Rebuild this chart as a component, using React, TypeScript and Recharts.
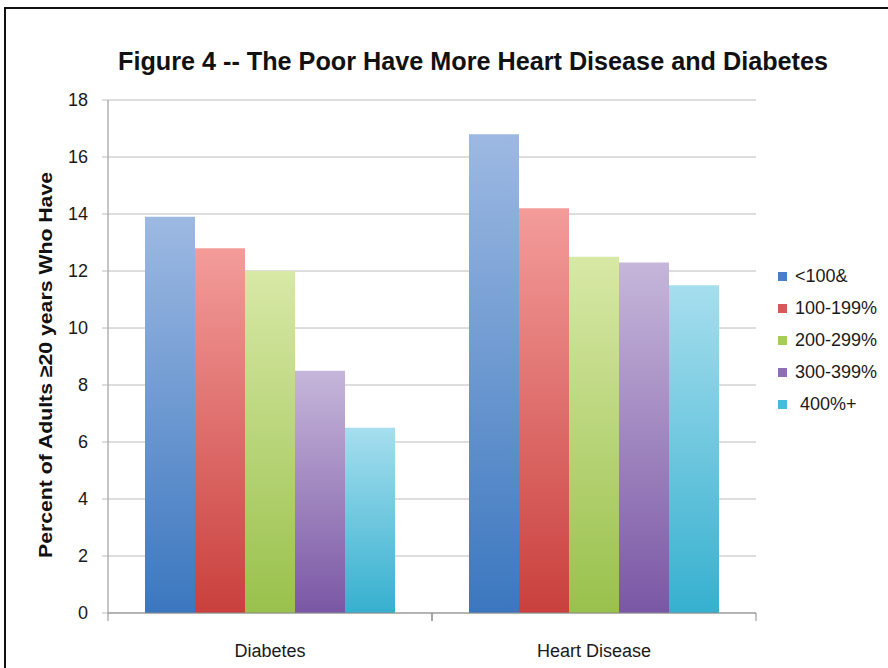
import React from 'react';
import { BarChart, Bar, XAxis, YAxis, CartesianGrid, Legend, Label } from 'recharts';

const categories = ['Diabetes', 'Heart Disease'];
const incomeGroups = ['<100&', '100-199%', '200-299%', '300-399%', ' 400%+'];
const under100 = [13.9, 16.8];
const from100to199 = [12.8, 14.2];
const from200to299 = [12.0, 12.5];
const from300to399 = [8.5, 12.3];
const over400 = [6.5, 11.5];
const yTicks = [0, 2, 4, 6, 8, 10, 12, 14, 16, 18];

const seriesValues = [under100, from100to199, from200to299, from300to399, over400];
const seriesKeys = ['under100', 'from100to199', 'from200to299', 'from300to399', 'over400'];

const data = categories.map((category, i) => {
  const row: Record<string, string | number> = { category };
  seriesValues.forEach((values, s) => {
    row[seriesKeys[s]] = values[i];
  });
  return row;
});

// top -> bottom gradient, like the old Excel bars
const palette = [
  { top: '#9db9e2', bottom: '#3b77bf', swatch: '#4a7fc6' },
  { top: '#f39c9a', bottom: '#c9403d', swatch: '#d8585a' },
  { top: '#d8e8a6', bottom: '#99c14c', swatch: '#a6cc5a' },
  { top: '#c6b6da', bottom: '#7a57a5', swatch: '#8e6fb7' },
  { top: '#a6deee', bottom: '#36b0cf', swatch: '#45bcd8' },
];

const FONT = '"Liberation Sans", Arial, sans-serif';
const HALF_CATEGORY = 162;

const CategoryTick = (props: any) => {
  const { x, y, payload } = props;
  return (
    <g>
      <line x1={x - HALF_CATEGORY} y1={y - 8} x2={x - HALF_CATEGORY} y2={y} stroke="#8a8a8a" />
      <line x1={x + HALF_CATEGORY} y1={y - 8} x2={x + HALF_CATEGORY} y2={y} stroke="#8a8a8a" />
      <text x={x} y={y + 36} textAnchor="middle" fontSize={18} fontFamily={FONT} fill="#1a1a1a">
        {payload.value}
      </text>
    </g>
  );
};

// keep the series order (recharts sorts legend items otherwise)
const renderLegend = () => (
  <div style={{ fontFamily: FONT, fontSize: 18, color: '#1a1a1a' }}>
    {incomeGroups.map((name, i) => (
      <div key={name} style={{ display: 'flex', alignItems: 'center', height: 32 }}>
        <span
          style={{
            display: 'inline-block',
            width: 9,
            height: 9,
            background: palette[i].swatch,
            marginRight: 8,
          }}
        />
        <span style={{ whiteSpace: 'pre' }}>{name}</span>
      </div>
    ))}
  </div>
);

const App = () => {
  return (
    <div
      style={{
        position: 'absolute',
        left: 0,
        top: 0,
        width: 888,
        height: 668,
        overflow: 'hidden',
        background: '#fff',
      }}
    >
      <div
        style={{
          position: 'absolute',
          left: 4,
          top: 7,
          width: 920,
          height: 700,
          border: '2px solid #111',
        }}
      />
      <svg width={888} height={100} style={{ position: 'absolute', left: 0, top: 0 }}>
        <text
          x={473}
          y={70}
          textAnchor="middle"
          fontSize={25}
          fontWeight="bold"
          fontFamily={FONT}
          textLength={710}
          lengthAdjust="spacingAndGlyphs"
          fill="#111"
        >
          Figure 4 -- The Poor Have More Heart Disease and Diabetes
        </text>
      </svg>
      <div style={{ position: 'absolute', left: 0, top: 0 }}>
        <BarChart
          width={888}
          height={668}
          data={data}
          margin={{ top: 100, right: 132, bottom: 0, left: 48 }}
          barCategoryGap={37}
          barGap={0}
        >
          <defs>
            {palette.map((c, i) => (
              <linearGradient key={i} id={`grad${i}`} x1="0" y1="0" x2="0" y2="1">
                <stop offset="0%" stopColor={c.top} />
                <stop offset="100%" stopColor={c.bottom} />
              </linearGradient>
            ))}
          </defs>
          <CartesianGrid vertical={false} stroke="#bcbcbc" />
          <XAxis
            dataKey="category"
            height={55}
            tickSize={8}
            tickMargin={0}
            tickLine={false}
            axisLine={{ stroke: '#8a8a8a' }}
            tick={<CategoryTick />}
            interval={0}
          />
          <YAxis
            width={60}
            domain={[0, 18]}
            ticks={yTicks}
            tickSize={6}
            tickMargin={14}
            axisLine={{ stroke: '#8a8a8a' }}
            tickLine={{ stroke: '#bcbcbc' }}
            tick={{ fontSize: 18, fontFamily: FONT, fill: '#1a1a1a' }}
          >
            <Label
              content={() => (
                <text
                  transform="translate(45, 365) rotate(-90)"
                  textAnchor="middle"
                  dy="0.35em"
                  fontSize={19}
                  fontWeight="bold"
                  fontFamily={FONT}
                  textLength={386}
                  lengthAdjust="spacingAndGlyphs"
                  fill="#111"
                >
                  Percent of Adults ≥20 years Who Have
                </text>
              )}
            />
          </YAxis>
          <Legend
            layout="vertical"
            align="center"
            verticalAlign="middle"
            content={renderLegend}
            wrapperStyle={{ left: 778, top: 260, width: 110 }}
          />
          {seriesKeys.map((key, i) => (
            <Bar
              key={key}
              dataKey={key}
              name={incomeGroups[i]}
              fill={`url(#grad${i})`}
              isAnimationActive={false}
            />
          ))}
        </BarChart>
      </div>
    </div>
  );
};

export default App;
